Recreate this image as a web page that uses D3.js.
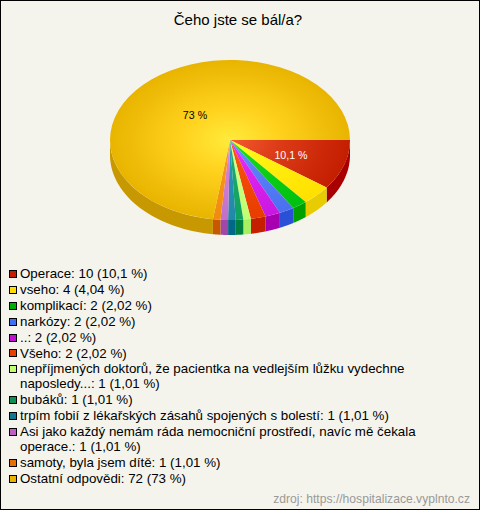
<!DOCTYPE html>
<html><head><meta charset="utf-8">
<script src="https://cdnjs.cloudflare.com/ajax/libs/d3/7.8.5/d3.min.js"></script>
<style>html,body{margin:0;padding:0;background:#fff}svg{display:block}text{font-family:"Liberation Sans",Arial,sans-serif}</style>
</head><body><svg id="c" width="480" height="510"></svg>
<script>
const title = "Čeho jste se bál/a?";
const source = "zdroj: https://hospitalizace.vyplnto.cz";
const labels = ["Operace","vseho","komplikací","narkózy","..","Všeho","nepříjmených doktorů, že pacientka na vedlejším lůžku vydechne naposledy...","bubáků","trpím fobií z lékařských zásahů spojených s bolestí","Asi jako každý nemám ráda nemocniční prostředí, navíc mě čekala operace.","samoty, byla jsem dítě","Ostatní odpovědi"];
const counts = [10,4,2,2,2,2,1,1,1,1,1,72];
const percents = ["10,1 %","4,04 %","2,02 %","2,02 %","2,02 %","2,02 %","1,01 %","1,01 %","1,01 %","1,01 %","1,01 %","73 %"];
const pieLabels = [["10,1 %",0,"#fff"],["73 %",11,"#000"]];
const legendColors = ["#c41e00","#ffdd00","#00b000","#4070f0","#c010d0","#e84000","#c0ff70","#109050","#107890","#c060c0","#e87000","#e8b400"];
const edgeColors = ["#c41e00","#ffe000","#00c010","#4a70f0","#c818e0","#e83c00","#c0ff70","#10a060","#2088a8","#c070c8","#f08a10","#e8b400"];
const midColors = ["#dc3c18","#fff010","#10d018","#5a80f8","#dc24f0","#f44c0a","#ccff80","#18a868","#2890b0","#d080d4","#f89418","#ffd21e"];
const lightColors = ["#f45a30","#ffff20","#20e020","#6a92ff","#f030ff","#ff5a14","#d8ff90","#20b070","#30a0c0","#e090e0","#ffa020","#ffeb3b"];
const sideColors = ["#a80000","#e6cc00","#00a000","#2a50d8","#a800b0","#c42000","#a8f060","#008040","#006888","#a048a8","#c85800","#c89800"];

const W=480,H=510,cx=230,cy=140,rx=120,ry=80,depth=15;
const svg=d3.select("#c");
svg.append("rect").attr("x",.5).attr("y",.5).attr("width",W-1).attr("height",H-1).attr("fill","#f5f4ec").attr("stroke","#000");
svg.append("text").attr("x",238).attr("y",25).attr("text-anchor","middle").attr("font-size",15).attr("fill","#000").text(title);

const defs=svg.append("defs");
const pie=d3.pie().sort(null).startAngle(Math.PI/2).endAngle(Math.PI/2+2*Math.PI);
const arcs=pie(counts);
const toMath=a=>a-Math.PI/2;
const line=d3.line();
const side=svg.append("g");
arcs.forEach((d,i)=>{
  const a0=Math.max(toMath(d.startAngle),0),a1=Math.min(toMath(d.endAngle),Math.PI);
  if(a1<=a0) return;
  const ang=d3.range(0,41).map(k=>a0+(a1-a0)*k/40);
  const top=ang.map(a=>[cx+rx*Math.cos(a),cy+ry*Math.sin(a)]);
  const bot=ang.slice().reverse().map(a=>[cx+rx*Math.cos(a),cy+ry*Math.sin(a)+depth]);
  side.append("path").attr("d",line(top.concat(bot))+"Z").attr("fill",sideColors[i]);
});
const arc=d3.arc().innerRadius(0).outerRadius(rx);
const face=svg.append("g").attr("transform",`translate(${cx},${cy}) scale(1,${ry/rx})`);
arcs.forEach((d,i)=>{
  const g=defs.append("radialGradient").attr("id","g"+i).attr("gradientUnits","userSpaceOnUse").attr("cx",0).attr("cy",0).attr("r",rx);
  g.append("stop").attr("offset",0).attr("stop-color",lightColors[i]);
  g.append("stop").attr("offset",.4).attr("stop-color",midColors[i]);
  g.append("stop").attr("offset",1).attr("stop-color",edgeColors[i]);
  face.append("path").attr("d",arc(d)).attr("fill",`url(#g${i})`);
});
const labelPos=[[291,159],[195,119]];
pieLabels.forEach((l,k)=>{
  svg.append("text").attr("x",labelPos[k][0]).attr("y",labelPos[k][1]).attr("text-anchor","middle").attr("font-size",10.67).attr("fill",l[2]).text(l[0]);
});
const legend=svg.append("g");
let y=278;
labels.forEach((name,i)=>{
  const s=`${name}: ${counts[i]} (${percents[i]})`;
  legend.append("rect").attr("x",9.5).attr("y",Math.round(y)-7.5).attr("width",7).attr("height",7).attr("fill",legendColors[i]).attr("stroke","#000");
  const t=legend.append("text").attr("x",20).attr("y",y).attr("font-size",13.33).attr("fill","#000");
  let cur="";
  s.split(" ").forEach(w=>{
    const test=cur?cur+" "+w:w;
    t.text(test);
    if(t.node().getComputedTextLength()>400&&cur){
      legend.append("text").attr("x",20).attr("y",y).attr("font-size",13.33).attr("fill","#000").text(cur);
      y+=15;cur=w;
    } else cur=test;
  });
  t.attr("y",y).text(cur);
  y+=15.9;
});
svg.append("text").attr("x",470).attr("y",503).attr("text-anchor","end").attr("font-size",12.13).attr("fill","#999").text(source);
</script></body></html>
